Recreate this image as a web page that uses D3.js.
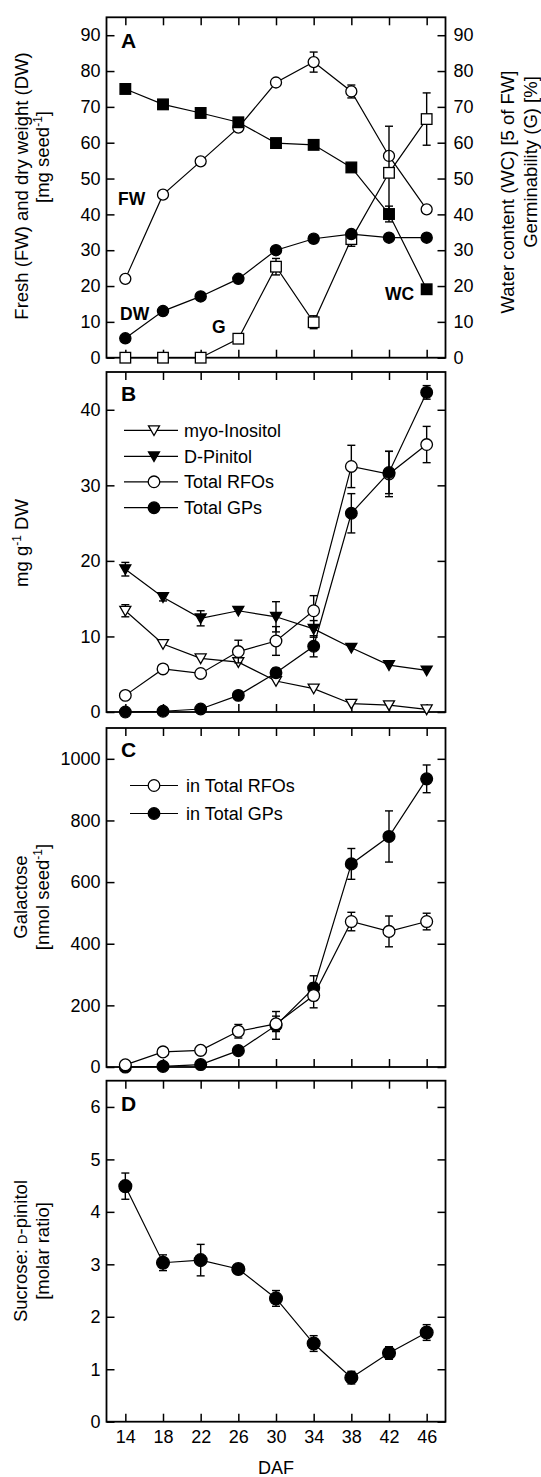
<!DOCTYPE html>
<html>
<head>
<meta charset="utf-8">
<script src="https://cdn.jsdelivr.net/npm/d3@7"></script>
<style>
  body { margin: 0; background: #fff; }
  svg { display: block; font-family: "Liberation Sans", Arial, sans-serif; }
</style>
</head>
<body>
<svg id="chart" width="541" height="1477"></svg>
<script>
// days after flowering
const daf = [14, 18, 22, 26, 30, 34, 38, 42, 46];

// panel A: fresh / dry weight (left axis), water content / germinability (right axis)
const fw      = [22.0, 45.5, 54.8, 64.2, 76.8, 82.5, 74.3, 56.3, 41.4];
const fwErr   = [0, 0, 0, 0, 0, 2.8, 1.8, 0, 0];
const dw      = [5.4, 13.0, 17.1, 22.0, 30.0, 33.2, 34.5, 33.5, 33.5];
const wc      = [75.0, 70.7, 68.3, 65.7, 59.9, 59.4, 53.1, 40.1, 19.1];
const wcErr   = [0, 0, 0, 0, 0, 0, 0, 2.2, 0];
const germ    = [0, 0, 0, 5.3, 25.4, 9.9, 33.1, 51.6, 66.6];
const germErr = [0, 0, 0, 0, 2.3, 1.8, 2.0, 13.0, 7.3];

// panel B: mg g-1 DW
const myoInositol = [13.4, 9.0, 7.1, 6.6, 4.1, 3.1, 1.1, 0.9, 0.35];
const myoErr      = [0.8, 0, 0, 0, 0, 0, 0, 0, 0];
const pinitol     = [18.9, 15.2, 12.4, 13.4, 12.6, 11.0, 8.5, 6.2, 5.5];
const pinitolErr  = [0.9, 0.5, 1.0, 0, 2.0, 1.1, 0, 0, 0];
const rfoB        = [2.2, 5.7, 5.1, 8.0, 9.4, 13.4, 32.5, 31.5, 35.4];
const rfoBErr     = [0, 0, 0, 1.5, 1.9, 2.0, 2.8, 3.0, 2.4];
const gpB         = [0, 0.1, 0.4, 2.2, 5.2, 8.7, 26.3, 31.7, 42.3];
const gpBErr      = [0, 0, 0, 0, 0.6, 1.4, 2.6, 2.8, 0.9];

// panel C: galactose, nmol seed-1
const galRfo    = [7, 49, 54, 116, 140, 232, 472, 440, 472];
const galRfoErr = [0, 0, 0, 22, 25, 40, 30, 50, 27];
const galGp     = [0, 2, 8, 53, 135, 256, 659, 748, 935];
const galGpErr  = [0, 0, 0, 0, 45, 40, 50, 83, 45];

// panel D: sucrose : D-pinitol molar ratio
const ratio    = [4.49, 3.03, 3.08, 2.91, 2.35, 1.49, 0.84, 1.31, 1.70];
const ratioErr = [0.25, 0.15, 0.3, 0.05, 0.15, 0.15, 0.12, 0.12, 0.15];

const ticksA = d3.range(0, 91, 10);
const ticksB = [0, 10, 20, 30, 40];
const ticksC = [0, 200, 400, 600, 800, 1000];
const ticksD = [0, 1, 2, 3, 4, 5, 6];

const FONT = '"Liberation Sans", Arial, sans-serif';
const svg = d3.select('#chart');
const x = d3.scaleLinear().domain([12, 48]).range([106.5, 445.5]);
const [x0, x1] = x.range();
const fmt = d3.format('d');

function panel(top, bottom, domain, ticks, opts = {}) {
  const y = d3.scaleLinear().domain(domain).range([bottom, top]);
  const g = svg.append('g');
  g.append('g').attr('transform', `translate(${x0},0)`)
    .call(d3.axisLeft(y).tickValues(ticks).tickSizeInner(-8).tickSizeOuter(0).tickPadding(6).tickFormat(fmt));
  g.append('g').attr('transform', `translate(${x1},0)`)
    .call(d3.axisRight(y).tickValues(ticks).tickSizeInner(-8).tickSizeOuter(0).tickPadding(8)
      .tickFormat(opts.rightLabels ? fmt : ''));
  g.append('g').attr('transform', `translate(0,${top})`)
    .call(d3.axisTop(x).tickValues(daf).tickSizeInner(-8).tickSizeOuter(0).tickFormat(''));
  g.append('g').attr('transform', `translate(0,${bottom})`)
    .call(d3.axisBottom(x).tickValues(daf).tickSizeInner(-8).tickSizeOuter(0).tickPadding(9)
      .tickFormat(opts.xLabels ? fmt : ''));
  g.selectAll('.domain').remove();
  g.selectAll('g').attr('font-family', FONT).attr('font-size', 18);
  g.selectAll('.tick line').attr('stroke', '#000').attr('stroke-width', 1.5);
  g.selectAll('.tick text').attr('fill', '#000');
  g.append('rect')
    .attr('x', x0).attr('y', top).attr('width', x1 - x0).attr('height', bottom - top)
    .attr('fill', 'none').attr('stroke', '#000').attr('stroke-width', 1.8);
  return y;
}

function marker(sel, shape, fill, size) {
  if (shape === 'circle') {
    sel.append('circle').attr('r', size);
  } else if (shape === 'square') {
    sel.append('rect').attr('x', -size).attr('y', -size).attr('width', 2 * size).attr('height', 2 * size);
  } else {
    sel.append('path').attr('d', `M${-size},${-size * 0.8}L${size},${-size * 0.8}L0,${size * 0.95}Z`);
  }
  sel.selectAll('circle,rect,path').attr('fill', fill).attr('stroke', '#000').attr('stroke-width', 1.3);
}

function series(y, values, errs, shape, fill, size) {
  const pts = daf.map((d, i) => ({ d, v: values[i], e: errs ? errs[i] : 0 }));
  svg.append('path').datum(pts)
    .attr('d', d3.line().x(p => x(p.d)).y(p => y(p.v)))
    .attr('fill', 'none').attr('stroke', '#000').attr('stroke-width', 1.2);
  const eb = svg.append('g').attr('stroke', '#000').attr('stroke-width', 1.4)
    .selectAll('g').data(pts.filter(p => p.e > 0)).join('g');
  eb.append('line').attr('x1', p => x(p.d)).attr('x2', p => x(p.d))
    .attr('y1', p => y(p.v - p.e)).attr('y2', p => y(p.v + p.e));
  eb.append('line').attr('x1', p => x(p.d) - 4).attr('x2', p => x(p.d) + 4)
    .attr('y1', p => y(p.v - p.e)).attr('y2', p => y(p.v - p.e));
  eb.append('line').attr('x1', p => x(p.d) - 4).attr('x2', p => x(p.d) + 4)
    .attr('y1', p => y(p.v + p.e)).attr('y2', p => y(p.v + p.e));
  svg.append('g').selectAll('g').data(pts).join('g')
    .attr('transform', p => `translate(${x(p.d)},${y(p.v)})`)
    .each(function () { marker(d3.select(this), shape, fill, size); });
}

function legend(rows, lx0, lx1, mx, tx) {
  rows.forEach(r => {
    svg.append('line').attr('x1', lx0).attr('x2', lx1).attr('y1', r.y).attr('y2', r.y)
      .attr('stroke', '#000').attr('stroke-width', 1.2);
    const m = svg.append('g').attr('transform', `translate(${mx},${r.y})`);
    marker(m, r.shape, r.fill, r.size);
    svg.append('text').attr('x', tx).attr('y', r.y).attr('dy', '0.35em')
      .attr('font-size', 18).text(r.label);
  });
}

function text(xp, yp, str, size, weight) {
  return svg.append('text').attr('x', xp).attr('y', yp).attr('font-size', size)
    .attr('font-weight', weight || 'normal').text(str);
}

function vtitle(xp, yp, size) {
  return svg.append('text').attr('transform', `translate(${xp},${yp}) rotate(-90)`)
    .attr('text-anchor', 'middle').attr('dy', '0.35em').attr('font-size', size);
}

// ---- Panel A ----
const yA = panel(17.3, 357.7, [0, 95], ticksA, { rightLabels: true });
series(yA, fw, fwErr, 'circle', '#fff', 5.5);
series(yA, wc, wcErr, 'square', '#000', 5.3);
series(yA, germ, germErr, 'square', '#fff', 5.3);
series(yA, dw, null, 'circle', '#000', 5.6);
text(121, 48, 'A', 21, 'bold');
text(118, 205, 'FW', 17.5, 'bold');
text(120, 320, 'DW', 17.5, 'bold');
text(212, 333, 'G', 17.5, 'bold');
text(385, 300, 'WC', 17.5, 'bold');

let t = vtitle(22, 186, 18.5);
t.text('Fresh (FW) and dry weight (DW)');
t = vtitle(43, 157, 18.5);
t.append('tspan').text('[mg seed');
t.append('tspan').attr('font-size', 12).attr('dy', -7).text('-1');
t.append('tspan').attr('dy', 7).text(']');
vtitle(508, 192, 18.5).text('Water content (WC) [5 of FW]');
vtitle(531, 162, 18.5).text('Germinability (G) [%]');

// ---- Panel B ----
const yB = panel(372, 712, [0, 45], ticksB);
series(yB, myoInositol, myoErr, 'tri', '#fff', 5.5);
series(yB, pinitol, pinitolErr, 'tri', '#000', 5.5);
series(yB, rfoB, rfoBErr, 'circle', '#fff', 5.8);
series(yB, gpB, gpBErr, 'circle', '#000', 5.8);
text(121, 401, 'B', 21, 'bold');
legend([
  { y: 430.3, shape: 'tri', fill: '#fff', size: 5.5, label: 'myo-Inositol' },
  { y: 456.3, shape: 'tri', fill: '#000', size: 5.5, label: 'D-Pinitol' },
  { y: 481.8, shape: 'circle', fill: '#fff', size: 5.8, label: 'Total RFOs' },
  { y: 507.7, shape: 'circle', fill: '#000', size: 5.8, label: 'Total GPs' }
], 124, 178, 154, 184);
t = vtitle(22, 543, 18.5);
t.append('tspan').text('mg g');
t.append('tspan').attr('font-size', 12).attr('dy', -7).text('-1');
t.append('tspan').attr('dy', 7).text(' DW');

// ---- Panel C ----
const yC = panel(728, 1067, [0, 1100], ticksC);
series(yC, galGp, galGpErr, 'circle', '#000', 5.9);
series(yC, galRfo, galRfoErr, 'circle', '#fff', 5.9);
text(121, 757, 'C', 21, 'bold');
legend([
  { y: 785.5, shape: 'circle', fill: '#fff', size: 5.8, label: 'in Total RFOs' },
  { y: 813.5, shape: 'circle', fill: '#000', size: 5.8, label: 'in Total GPs' }
], 130, 178, 154, 186);
vtitle(21, 897, 18.5).text('Galactose');
t = vtitle(43, 897, 18.5);
t.append('tspan').text('[nmol seed');
t.append('tspan').attr('font-size', 12).attr('dy', -7).text('-1');
t.append('tspan').attr('dy', 7).text(']');

// ---- Panel D ----
const yD = panel(1080.7, 1421.7, [0, 6.5], ticksD, { xLabels: true });
series(yD, ratio, ratioErr, 'circle', '#000', 6.4);
text(121, 1111, 'D', 21, 'bold');
t = vtitle(21, 1251, 18.5);
t.append('tspan').text('Sucrose: ');
t.append('tspan').attr('font-size', 13).text('D');
t.append('tspan').text('-pinitol');
vtitle(43, 1251, 18.5).text('[molar ratio]');
svg.append('text').attr('x', x(30)).attr('y', 1474).attr('text-anchor', 'middle')
  .attr('font-size', 18).text('DAF');
</script>
</body>
</html>
